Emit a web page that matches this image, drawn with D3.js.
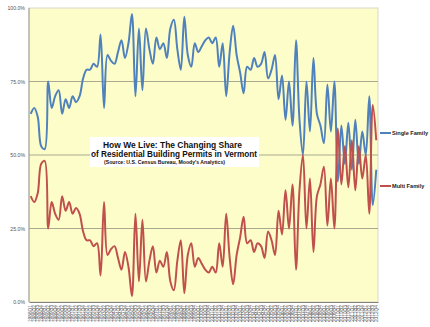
<!DOCTYPE html>
<html>
<head>
<meta charset="utf-8">
<script src="https://cdn.jsdelivr.net/npm/d3@7"></script>
<style>
  html, body { margin: 0; padding: 0; background: #ffffff; }
  svg { display: block; font-family: "Liberation Sans", Arial, sans-serif; }
</style>
</head>
<body>
<svg id="chart" width="430" height="327"></svg>
<script>
// ---- data ----
const years = [1988,1989,1990,1991,1992,1993,1994,1995,1996,1997,1998,1999,2000,2001,2002,2003,2004,2005,2006,2007,2008,2009,2010,2011,2012];
const quarters = ["Q1","Q2","Q3","Q4"];
const categories = years.flatMap(y => quarters.map(q => y + q));

const singleFamily = [64,66,63,53,52,75,66,70,72,64,69,66,70,68,70,76,79,79,81,80,
  91,66,84,82,81,85,89,83,88,98,70,93,72,93,86,81,90,86,88,83,
  93,96,86,79,97,84,80,88,85,87,89,90,88,90,80,88,70,85,94,84,
  78,71,80,79,83,80,81,85,76,79,84,69,77,62,75,60,89,62,50,75,
  58,83,64,60,54,74,58,75,41,60,47,61,45,62,47,58,50,70,33,45];

const multiFamily = [36,34,37,47,48,25,34,30,28,36,31,34,30,32,30,24,21,21,19,20,
  9,34,16,18,19,15,11,17,12,2,30,7,28,7,14,19,10,14,12,17,
  7,4,14,21,3,16,20,12,15,13,11,10,12,10,20,12,30,15,6,16,
  22,29,20,21,17,20,19,15,24,21,16,31,23,38,25,40,11,38,50,25,
  42,17,36,40,46,26,42,25,59,40,53,39,55,38,53,42,50,30,67,55];

const yTicks = [0, 25, 50, 75, 100];
const seriesNames = ["Single Family", "Multi Family"];
const titleLines = ["How We Live:  The Changing Share", "of Residential Building Permits in Vermont"];
const sourceLine = "(Source:  U.S. Census Bureau, Moody's Analytics)";

// ---- layout ----
const svg = d3.select("#chart");
const plot = { left: 29, right: 378, top: 8, bottom: 302 };

const x = d3.scaleBand().domain(categories).range([plot.left, plot.right]);
const y = d3.scaleLinear().domain([0, 100]).range([plot.bottom, plot.top]);

// plot background
svg.append("rect")
  .attr("x", plot.left).attr("y", plot.top)
  .attr("width", plot.right - plot.left).attr("height", plot.bottom - plot.top)
  .attr("fill", "#fdfdc9")
  .attr("stroke", "#d8d8c8").attr("stroke-width", 1);

// gridlines
svg.append("g").selectAll("line")
  .data(yTicks.filter(d => d > 0 && d < 100))
  .join("line")
  .attr("x1", plot.left).attr("x2", plot.right)
  .attr("y1", d => y(d)).attr("y2", d => y(d))
  .attr("stroke", "#a9a98f").attr("stroke-width", 1);

// left border
svg.append("line").attr("x1", plot.left).attr("x2", plot.left)
  .attr("y1", plot.top).attr("y2", plot.bottom)
  .attr("stroke", "#9a9a9a").attr("stroke-width", 1);

// y axis
const yAxis = svg.append("g")
  .attr("transform", `translate(${plot.left},0)`)
  .call(d3.axisLeft(y).tickValues(yTicks).tickSize(0).tickPadding(4)
    .tickFormat(d => d.toFixed(1) + "%"));
yAxis.select(".domain").remove();
yAxis.selectAll("text").attr("font-size", 5.2).attr("fill", "#555");

// x axis
const xAxis = svg.append("g")
  .attr("transform", `translate(0,${plot.bottom})`)
  .call(d3.axisBottom(x).tickSize(0).tickPadding(0));
xAxis.select(".domain").attr("stroke", "#808080");
xAxis.selectAll("text")
  .attr("font-size", 4.8).attr("fill", "#555")
  .attr("text-anchor", "end")
  .attr("transform", "rotate(-90)")
  .attr("x", -3).attr("y", 0).attr("dy", "0.35em");

// lines
const line = d3.line()
  .x((d, i) => x(categories[i]) + x.bandwidth() / 2)
  .y(d => y(d))
  .curve(d3.curveCatmullRom.alpha(0.5));

const seriesColors = ["#4f81bd", "#c0504d"];
[singleFamily, multiFamily].forEach((vals, k) => {
  svg.append("path")
    .datum(vals)
    .attr("d", line)
    .attr("fill", "none")
    .attr("stroke", seriesColors[k])
    .attr("stroke-width", 2)
    .attr("stroke-linejoin", "round");
});

// title box
svg.append("rect")
  .attr("x", 90).attr("y", 137).attr("width", 169).attr("height", 30)
  .attr("fill", "#ffffff");
const title = svg.append("g").attr("font-weight", "bold").attr("fill", "#111");
title.append("text").attr("x", 103).attr("y", 147.5)
  .attr("font-size", 8.6).attr("textLength", 139).attr("lengthAdjust", "spacingAndGlyphs")
  .text(titleLines[0]);
title.append("text").attr("x", 91).attr("y", 157)
  .attr("font-size", 8.6).attr("textLength", 166).attr("lengthAdjust", "spacingAndGlyphs")
  .text(titleLines[1]);
title.append("text").attr("x", 104).attr("y", 164)
  .attr("font-size", 5).attr("textLength", 121).attr("lengthAdjust", "spacingAndGlyphs")
  .text(sourceLine);

// legend
const legendY = [133, 186];
seriesNames.forEach((name, k) => {
  svg.append("line")
    .attr("x1", 380).attr("x2", 391)
    .attr("y1", legendY[k]).attr("y2", legendY[k])
    .attr("stroke", seriesColors[k]).attr("stroke-width", 2);
  svg.append("text")
    .attr("x", 392).attr("y", legendY[k]).attr("dy", "0.35em")
    .attr("font-size", 5.6).attr("font-weight", "bold").attr("fill", "#222")
    .text(name);
});
</script>
</body>
</html>
